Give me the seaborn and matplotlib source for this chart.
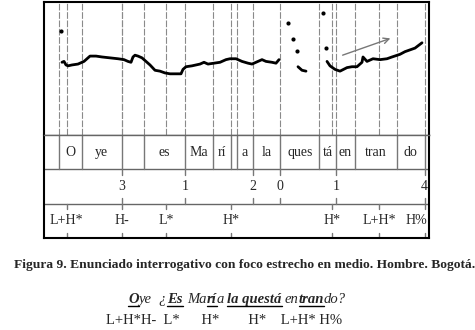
import numpy as np
import pandas as pd
import seaborn as sns
import matplotlib.pyplot as plt
from matplotlib.lines import Line2D

# pitch track (time in ms, f0 in Hz)
seg_a_t = [72, 80, 88, 96, 112, 136, 160, 184, 208, 232, 264, 296, 320, 336, 348, 356, 364, 376, 392, 408,
           424, 444, 464, 484, 504, 528, 548, 556, 568, 592, 624, 640, 656, 680, 704, 728, 744, 768, 792, 816,
           832, 848, 872, 888, 912, 928, 940]
seg_a_hz = [182, 183, 179, 178, 179, 180, 183, 189, 189, 188, 187, 186, 185, 183, 182, 188, 190, 189, 187, 183,
            179, 173, 172, 170, 169, 169, 169, 174, 177, 178, 180, 182, 180, 181, 182, 185, 186, 186, 183, 181,
            180, 182, 185, 183, 182, 181, 185]
seg_b_t = [1016, 1032, 1048]
seg_b_hz = [177, 173, 172]
seg_c_t = [1132, 1144, 1164, 1184, 1212, 1232, 1252, 1272, 1276, 1292, 1316, 1344, 1372, 1392, 1424, 1444,
           1464, 1484, 1512]
seg_c_hz = [183, 178, 174, 172, 176, 177, 177, 182, 188, 183, 186, 185, 186, 188, 191, 194, 196, 198, 204]
stray_t = [68, 976, 996, 1012, 1116, 1128]
stray_hz = [217, 226, 208, 195, 238, 198]

arrow_t = [1184, 1396]
arrow_hz = [189, 210]

# textgrid tiers
syl_bounds = [0, 61, 151, 311, 400, 564, 677, 749, 773, 835, 945, 1101, 1168, 1244, 1411, 1524, 1540]
syl_labels = ['', 'O', 'ye', '', 'es', 'Ma', 'rí', '', 'a', 'la', 'ques', 'tá', 'en', 'tran', 'do', '']
break_t = [312, 564, 835, 945, 1168, 1524]
break_labels = ['3', '1', '2', '0', '1', '4']
tone_t = [91, 312, 489, 749, 1151, 1340, 1524]
tone_labels = ['L+H*', 'H-', 'L*', 'H*', 'H*', 'L+H*', 'H%']

caption = 'Figura 9. Enunciado interrogativo con foco estrecho en medio. Hombre. Bogotá.'
# (text, bold+underlined, gap after in px)
sentence = [('O', True, 0), ('ye', False, 7), ('¿', False, 1), ('Es', True, 5), ('Ma', False, 0),
            ('rí', True, 0), ('a', False, 3), ('la questá', True, 3), ('en', False, 0),
            ('tran', True, 0), ('do?', False, 0)]
tone_line = 'L+H*H-  L*      H*        H*    L+H* H%'

sns.set_theme(style='white')
plt.rcParams['font.family'] = ['Liberation Serif', 'DejaVu Serif']

W, H = 475, 330
fig = plt.figure(figsize=(4.75, 3.3), dpi=100)
tmax = syl_bounds[-1]

# ---- pitch panel
ax = fig.add_axes([44 / W, 1 - 135 / H, 385 / W, 133 / H])
frames = []
for k, (tt, hh) in enumerate([(seg_a_t, seg_a_hz), (seg_b_t, seg_b_hz), (seg_c_t, seg_c_hz)]):
    frames.append(pd.DataFrame({'t': tt, 'hz': hh, 'seg': k}))
df = pd.concat(frames, ignore_index=True)
strays = pd.DataFrame({'t': stray_t, 'hz': stray_hz})

marks = sorted(set(syl_bounds[1:-1]) | set(break_t) | set(tone_t))
for m in marks:
    ax.axvline(m, color='#8a8a8a', lw=0.8, dashes=(6, 1.5), zorder=1)

sns.lineplot(data=df, x='t', y='hz', units='seg', estimator=None, sort=False, ax=ax,
             color='black', linewidth=2.0, zorder=3)
sns.scatterplot(data=strays, x='t', y='hz', ax=ax, color='black', s=9, linewidth=0, zorder=3)
ax.annotate('', xy=(arrow_t[1], arrow_hz[1]), xytext=(arrow_t[0], arrow_hz[0]),
            arrowprops=dict(arrowstyle='->', color='#777777', lw=1.0, mutation_scale=10), zorder=4)
ax.set_xlim(0, tmax)
ax.set_ylim(100, 250)
ax.set_xticks([])
ax.set_yticks([])
ax.set_xlabel('')
ax.set_ylabel('')
for s in ['top', 'left', 'right']:
    ax.spines[s].set_color('black')
    ax.spines[s].set_linewidth(1.5)
ax.spines['bottom'].set_color('#666666')
ax.spines['bottom'].set_linewidth(1.0)

# ---- tiers
tx = fig.add_axes([44 / W, 1 - 238 / H, 385 / W, 103 / H])
tx.set_xlim(0, tmax)
tx.set_ylim(0, 3)
tx.set_xticks([])
tx.set_yticks([])
for s in ['bottom', 'left', 'right']:
    tx.spines[s].set_color('black')
    tx.spines[s].set_linewidth(1.5)
tx.spines['top'].set_color('#666666')
tx.spines['top'].set_linewidth(1.0)
for yb in [1, 2]:
    tx.axhline(yb, color='#666666', lw=1.0)

fs = 10
for b in syl_bounds[1:-1]:
    tx.plot([b, b], [2, 3], color='#777777', lw=1.0)
for i, lab in enumerate(syl_labels):
    if lab:
        tx.text((syl_bounds[i] + syl_bounds[i + 1]) / 2, 2.5, lab, ha='center', va='center', fontsize=fs)

tick = 0.16
for row, pts, labs in [(1, break_t, break_labels), (0, tone_t, tone_labels)]:
    for p, lab in zip(pts, labs):
        tx.plot([p, p], [row, row + tick], color='#777777', lw=1.0)
        tx.plot([p, p], [row + 1 - tick, row + 1], color='#777777', lw=1.0)
        if p > 0.97 * tmax:
            tx.text(tmax - 6, row + 0.5, lab, ha='right', va='center', fontsize=fs)
        else:
            tx.text(p, row + 0.5, lab, ha='center', va='center', fontsize=fs)

# ---- caption and example lines
renderer = fig.canvas.get_renderer()
cap = fig.text(245 / W, 1 - 268 / H, caption, ha='center', va='baseline', fontsize=10, fontweight='bold')
cw = cap.get_window_extent(renderer).width
cap.set_fontsize(10 * 460 / cw)

sfs = 10.5
widths = []
for txt, bold, gap in sentence:
    t = fig.text(0, 0, txt, fontsize=sfs, style='italic', fontweight='bold' if bold else 'normal')
    widths.append(t.get_window_extent(renderer).width)
    t.remove()
total = sum(w + g for w, (_, _, g) in zip(widths, sentence))
x = 237 - total / 2
ybase = 303
for w, (txt, bold, gap) in zip(widths, sentence):
    fig.text(x / W, 1 - ybase / H, txt, fontsize=sfs, style='italic', va='baseline',
             fontweight='bold' if bold else 'normal')
    if bold:
        fig.add_artist(Line2D([x / W, (x + w) / W], [1 - (ybase + 2.5) / H] * 2,
                              transform=fig.transFigure, color='black', lw=1.0))
    x += w + gap

fig.text(224 / W, 1 - 324 / H, tone_line, ha='center', va='baseline', fontsize=10.5)

fig.savefig('out.png', dpi=100)
